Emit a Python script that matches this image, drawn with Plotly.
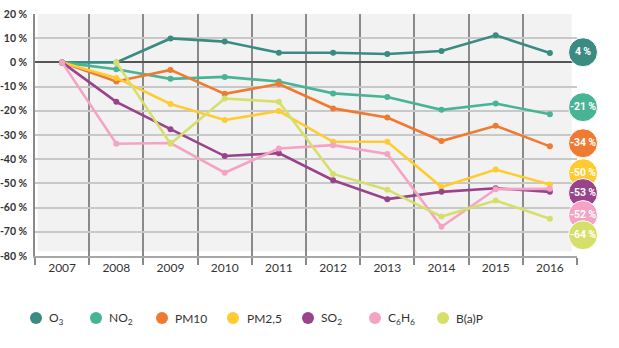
import plotly.graph_objects as go

years = ["2007", "2008", "2009", "2010", "2011", "2012", "2013", "2014", "2015", "2016"]
series_names = ["O<sub>3</sub>", "NO<sub>2</sub>", "PM10", "PM2,5", "SO<sub>2</sub>", "C<sub>6</sub>H<sub>6</sub>", "B(a)P"]
o3 = [0, 0, 9.9, 8.6, 4.0, 4.0, 3.5, 4.7, 11.2, 3.9]
no2 = [0, -2.8, -6.8, -6.0, -7.9, -12.8, -14.3, -19.6, -17.0, -21.4]
pm10 = [0, -7.9, -3.1, -13.0, -8.9, -19.0, -22.8, -32.5, -26.2, -34.7]
pm25 = [0, -6.4, -17.2, -23.8, -20.1, -32.8, -32.8, -51.5, -44.3, -50.5]
so2 = [0, -16.3, -27.6, -38.7, -37.5, -48.7, -56.5, -53.5, -52.0, -53.5]
c6h6 = [0, -33.6, -33.3, -45.6, -35.6, -34.2, -37.8, -67.9, -52.4, -52.2]
bap = [None, 0, -33.6, -14.9, -16.3, -46.1, -52.6, -63.7, -57.1, -64.6]
final_labels = ["4 %", "-21 %", "-34 %", "-50 %", "-53 %", "-52 %", "-64 %"]
y_ticks = [20, 10, 0, -10, -20, -30, -40, -50, -60, -70, -80]

values = [o3, no2, pm10, pm25, so2, c6h6, bap]
colors = ["#3C8B83", "#49B396", "#EE7B31", "#FFCB30", "#98438B", "#F4A3C5", "#D7DF6B"]
badge_y = [4.2, -18.5, -33.4, -45.8, -54.0, -63.1, -71.4]  # layout positions of badges

W, H = 619, 348
L, R, T, B = 35, 0, 14, 92
PW, PH = W - L - R, H - T - B
AX_RIGHT = 577  # right end of main x axis (px)
main_dom = (AX_RIGHT - L) / PW

def px_x(p):
    return (p - L) / PW

def px_y(p):
    return (H - B - p) / PH

fig = go.Figure()
xs = list(range(len(years)))
for name, vals, col in zip(series_names, values, colors):
    fig.add_trace(go.Scatter(
        x=xs, y=vals, mode="lines+markers", name=name,
        line=dict(color=col, width=2.6), marker=dict(color=col, size=6),
        showlegend=False, hoverinfo="skip"))

fig.add_trace(go.Scatter(
    x=[6] * len(final_labels), y=badge_y, mode="markers+text",
    xaxis="x2", yaxis="y2",
    text=[t.replace(" ", "\u2009") for t in final_labels], textposition="middle center",
    textfont=dict(family="Liberation Sans Narrow, Roboto, Lato", size=10.5, color="white",
                  weight="bold"),
    marker=dict(color=colors, size=29, line=dict(color="white", width=1)),
    cliponaxis=False, showlegend=False, hoverinfo="skip"))

shapes = [dict(type="rect", xref="x", yref="y", x0=-0.45, x1=9.4, y0=-78, y1=20,
               fillcolor="#f2f2f2", line=dict(width=0), layer="below")]
annotations = []
leg_dot_x = [36, 96, 162, 233, 308, 375, 443]
leg_txt_x = [47, 107, 173, 245, 319, 386, 454]
leg_y = 318
for name, col, dx, tx in zip(series_names, colors, leg_dot_x, leg_txt_x):
    shapes.append(dict(type="circle", xref="paper", yref="paper",
                       xsizemode="pixel", ysizemode="pixel",
                       xanchor=px_x(dx), yanchor=px_y(leg_y),
                       x0=-6, x1=6, y0=-6, y1=6,
                       fillcolor=col, line=dict(width=0)))
    annotations.append(dict(xref="paper", yref="paper", x=px_x(tx), y=px_y(leg_y),
                            xanchor="left", yanchor="middle", text=name, showarrow=False,
                            font=dict(family="Lato", size=12, color="#333333")))

fig.update_layout(
    width=W, height=H, margin=dict(l=L, r=R, t=T, b=B, autoexpand=False),
    paper_bgcolor="white", plot_bgcolor="white",
    shapes=shapes, annotations=annotations, showlegend=False,
    xaxis=dict(domain=[0, main_dom], range=[-0.5, 9.5], tickmode="array", tickvals=xs,
               ticktext=years, automargin=False,
               showgrid=False, zeroline=False, ticks="",
               tickfont=dict(family="Lato", size=12, color="#333333"),
               showline=True, linecolor="#a8a8a8", linewidth=1.5,
               minor=dict(tick0=0.5, dtick=1, showgrid=True, gridcolor="#8a8a8a",
                          gridwidth=1.6, ticks="outside", ticklen=7, tickcolor="#8a8a8a",
                          tickwidth=1.6)),
    yaxis=dict(range=[-80, 20], tickmode="array", tickvals=y_ticks,
               ticktext=[f"{v} %" for v in y_ticks], automargin=False,
               tickfont=dict(family="Lato", size=10.5, color="#333333", weight="bold"),
               showgrid=True, gridcolor="#c8c8c8", gridwidth=1.5,
               zeroline=True, zerolinecolor="#555555", zerolinewidth=1.5,
               showline=True, linecolor="#8a8a8a", linewidth=1.5, ticks="", ticklabelstandoff=4),
    xaxis2=dict(domain=[main_dom, 1], range=[0, W - AX_RIGHT], visible=False,
                anchor="y2", fixedrange=True),
    yaxis2=dict(range=[-80, 20], visible=False, anchor="x2",
                domain=[0, 1], fixedrange=True),
)

fig.write_html("out.html")
